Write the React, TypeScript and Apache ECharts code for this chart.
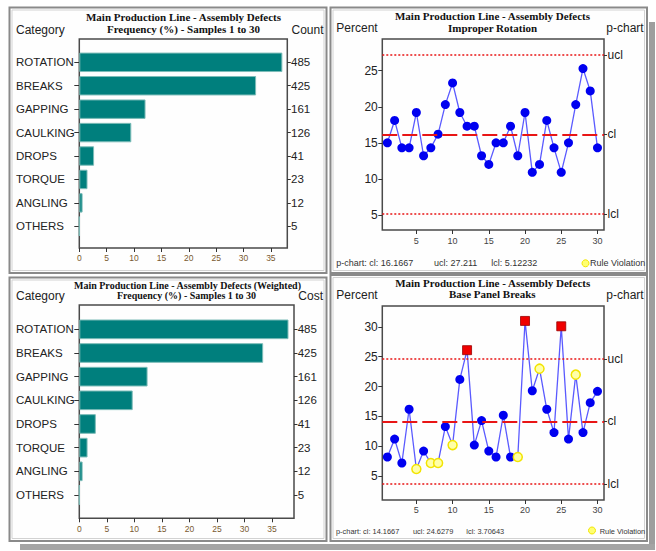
import React, { useEffect, useRef } from 'react';
import * as echarts from 'echarts';

const SANS = '"Liberation Sans", Arial, sans-serif';
const SERIF = '"Liberation Serif", "Times New Roman", serif';

// ---------- data ----------
const categories = ['ROTATION', 'BREAKS', 'GAPPING', 'CAULKING', 'DROPS', 'TORQUE', 'ANGLING', 'OTHERS'];
const counts = [485, 425, 161, 126, 41, 23, 12, 5];
const costs = [485, 425, 161, 126, 41, 23, 12, 5];
const frequencyPct = [37.1, 32.3, 12.1, 9.5, 2.7, 1.5, 0.6, 0];
const weightedPct = [38.0, 33.4, 12.4, 9.7, 3.0, 1.5, 0.6, 0];
const barTicks = [0, 5, 10, 15, 20, 25, 30, 35];

const samples = [1, 2, 3, 4, 5, 6, 7, 8, 9, 10, 11, 12, 13, 14, 15, 16, 17, 18, 19, 20, 21, 22, 23, 24, 25, 26, 27, 28, 29, 30];
const rotationPct = [15.0, 18.1, 14.3, 14.3, 19.2, 13.2, 14.3, 16.2, 20.3, 23.3, 19.2, 17.3, 17.3, 13.2, 12.0, 15.0, 15.0, 17.3, 13.2, 19.2, 10.9, 12.0, 18.1, 14.3, 10.9, 15.0, 20.3, 25.3, 22.2, 14.3];
const breaksPct = [8.2, 11.2, 7.2, 16.2, 6.2, 9.2, 7.2, 7.2, 13.3, 10.2, 21.2, 26.1, 10.2, 14.3, 9.2, 8.2, 15.2, 8.2, 8.2, 31.0, 19.3, 23.0, 16.2, 12.3, 30.1, 11.2, 22.0, 12.3, 17.3, 19.2];
const breaksRuleViolations = [5, 7, 8, 10, 19, 22, 27];

const rotationCl = 16.1667;
const rotationUcl = 27.211;
const rotationLcl = 5.12232;
const breaksCl = 14.1667;
const breaksUcl = 24.6279;
const breaksLcl = 3.70643;

const pTicksX = [5, 10, 15, 20, 25, 30];
const rotationTicksY = [5, 10, 15, 20, 25];
const breaksTicksY = [5, 10, 15, 20, 25, 30];

// ---------- helpers ----------
const LABEL = '#222';
const TEAL = '#007f7d';
const RED = '#e81515';

function txt(x: number, y: number, text: string, font: string, align = 'left', fill = LABEL) {
  return {
    type: 'text',
    x,
    y,
    silent: true,
    style: { text, font, fill, align, textAlign: align, verticalAlign: 'middle', textVerticalAlign: 'middle' },
  };
}

function panel(x: number, y: number, w: number, h: number) {
  return [
    { type: 'rect', silent: true, shape: { x, y, width: w, height: h }, style: { fill: '#fefefe', stroke: '#8a8a8a', lineWidth: 2 }, z: -10 },
    { type: 'rect', silent: true, shape: { x: x + 2.5, y: y + 2.5, width: w - 5, height: h - 5 }, style: { fill: 'none', stroke: '#d2d2d2', lineWidth: 1 }, z: -9 },
  ];
}

function near(a: number, b: number) {
  return Math.abs(a - b) < 1e-6;
}

const hiddenValueAxis = (gridIndex: number, min: number, max: number) => ({
  gridIndex, type: 'value', min, max, show: false,
});

function barXAxis(gridIndex: number, max: number, margin: number) {
  return {
    gridIndex, type: 'value', min: 0, max,
    axisLine: { show: false },
    splitLine: { show: false },
    axisTick: { show: true, length: 4, customValues: barTicks, lineStyle: { color: '#333' } },
    axisLabel: { customValues: barTicks, fontSize: 8.5, color: '#7a5a30', margin, fontFamily: SANS },
  };
}

function catAxis(gridIndex: number, data: string[], position: string, tickLen: number, margin: number, align: string) {
  return {
    gridIndex, type: 'category', inverse: true, position, data,
    axisLine: { show: false },
    splitLine: { show: false },
    axisTick: { show: true, alignWithLabel: true, length: tickLen, lineStyle: { color: '#333' } },
    axisLabel: { align, margin, fontSize: 11.5, color: LABEL, fontFamily: SANS },
  };
}

function pXAxis(gridIndex: number, margin: number) {
  return {
    gridIndex, type: 'value', min: 0.3, max: 30.9,
    axisLine: { show: false },
    splitLine: { show: false },
    axisTick: { show: true, length: 4, customValues: pTicksX, lineStyle: { color: '#333' } },
    axisLabel: { customValues: pTicksX, fontSize: 9, color: '#444', margin, fontFamily: SANS },
  };
}

function pYLeft(gridIndex: number, min: number, max: number, ticks: number[]) {
  return {
    gridIndex, type: 'value', min, max, position: 'left',
    axisLine: { show: false },
    splitLine: { show: false },
    axisTick: { show: true, length: 4, customValues: ticks, lineStyle: { color: '#333' } },
    axisLabel: { customValues: ticks, fontSize: 12, color: LABEL, margin: 4.5, fontFamily: SANS },
  };
}

function pYRight(gridIndex: number, min: number, max: number, ucl: number, cl: number, lcl: number) {
  const vals = [ucl, cl, lcl];
  return {
    gridIndex, type: 'value', min, max, position: 'right',
    axisLine: { show: false },
    splitLine: { show: false },
    axisTick: { show: true, length: 3, customValues: vals, lineStyle: { color: '#333' } },
    axisLabel: {
      customValues: vals, fontSize: 12, color: LABEL, margin: 3.5, fontFamily: SANS,
      formatter: (v: number) => (near(v, ucl) ? 'ucl' : near(v, cl) ? 'cl' : 'lcl'),
    },
  };
}

function controlLines(ucl: number, cl: number, lcl: number) {
  return {
    silent: true,
    symbol: ['none', 'none'],
    label: { show: false },
    emphasis: { disabled: true },
    data: [
      { yAxis: ucl, lineStyle: { type: [2, 2], color: RED, width: 1.5 } },
      { yAxis: cl, lineStyle: { type: [15, 5], color: RED, width: 1.8 } },
      { yAxis: lcl, lineStyle: { type: [2, 2], color: RED, width: 1.5 } },
    ],
  };
}

const gridFrame = { show: true, borderColor: '#4a4a4a', borderWidth: 1.5, backgroundColor: 'transparent' };

export default function App() {
  const ref = useRef<HTMLDivElement>(null);

  useEffect(() => {
    if (!ref.current) return;
    const chart = echarts.init(ref.current, undefined, { renderer: 'svg' });

    const breaksData = samples.map((s, i) => {
      const v = breaksPct[i];
      if (v > breaksUcl) {
        return { value: [s, v], symbol: 'rect', symbolSize: 9, itemStyle: { color: '#f00000', borderColor: '#900', borderWidth: 0.8 } };
      }
      if (breaksRuleViolations.includes(s)) {
        return { value: [s, v], symbol: 'circle', symbolSize: 9, itemStyle: { color: '#ffffa8', borderColor: '#f2e400', borderWidth: 1.5 } };
      }
      return { value: [s, v] };
    });

    const option: any = {
      animation: false,
      backgroundColor: '#ffffff',
      grid: [
        { left: 79.3, top: 39, width: 208, height: 209, ...gridFrame },
        { left: 79.3, top: 50.6, width: 208, height: 187.4 },
        { left: 382.3, top: 39, width: 221.7, height: 191, ...gridFrame },
        { left: 79.3, top: 305, width: 214.7, height: 213.3, ...gridFrame },
        { left: 79.3, top: 317.5, width: 214.7, height: 189.3 },
        { left: 382.3, top: 306, width: 221.7, height: 194, ...gridFrame },
      ],
      xAxis: [
        barXAxis(0, 38, 5),
        hiddenValueAxis(1, 0, 38),
        pXAxis(2, 6),
        barXAxis(3, 39, 6.5),
        hiddenValueAxis(4, 0, 39),
        pXAxis(5, 5.5),
      ],
      yAxis: [
        hiddenValueAxis(0, 0, 1),
        catAxis(1, categories, 'left', 5, 63.3, 'left'),
        catAxis(1, counts.map(String), 'right', 3.5, 3.7, 'left'),
        pYLeft(2, 2.9, 29.4, rotationTicksY),
        pYRight(2, 2.9, 29.4, rotationUcl, rotationCl, rotationLcl),
        hiddenValueAxis(3, 0, 1),
        catAxis(4, categories, 'left', 5, 63.3, 'left'),
        catAxis(4, costs.map(String), 'right', 3.5, 3.7, 'left'),
        pYLeft(5, 1.0, 33.5, breaksTicksY),
        pYRight(5, 1.0, 33.5, breaksUcl, breaksCl, breaksLcl),
      ],
      series: [
        {
          type: 'bar', xAxisIndex: 1, yAxisIndex: 1, data: frequencyPct, barCategoryGap: '17%',
          itemStyle: { color: TEAL, borderColor: '#7cbcb8', borderWidth: 1 }, silent: true,
        },
        {
          type: 'bar', xAxisIndex: 4, yAxisIndex: 6, data: weightedPct, barCategoryGap: '17%',
          itemStyle: { color: TEAL, borderColor: '#7cbcb8', borderWidth: 1 }, silent: true,
        },
        {
          type: 'line', xAxisIndex: 2, yAxisIndex: 3,
          data: samples.map((s, i) => [s, rotationPct[i]]),
          symbol: 'circle', symbolSize: 9, showAllSymbol: true,
          itemStyle: { color: '#0000f0' },
          lineStyle: { color: '#5a5aff', width: 1.3 },
          markLine: controlLines(rotationUcl, rotationCl, rotationLcl),
          silent: true,
        },
        {
          type: 'line', xAxisIndex: 5, yAxisIndex: 8,
          data: breaksData,
          symbol: 'circle', symbolSize: 9, showAllSymbol: true,
          itemStyle: { color: '#0000f0' },
          lineStyle: { color: '#5a5aff', width: 1.3 },
          markLine: controlLines(breaksUcl, breaksCl, breaksLcl),
          silent: true,
        },
      ],
      graphic: [
        // shadows
        { type: 'rect', silent: true, shape: { x: 649, y: 22, width: 6, height: 527 }, style: { fill: '#9e9e9e' }, z: -20 },
        { type: 'rect', silent: true, shape: { x: 20, y: 544, width: 635, height: 6 }, style: { fill: '#a4a4a4' }, z: -20 },
        ...panel(9.5, 7.5, 317, 265.5),
        ...panel(330.5, 7.5, 316.5, 265.5),
        ...panel(9.5, 277.5, 317, 263.5),
        ...panel(330.5, 275, 316.5, 266),
        // top-left
        txt(183.5, 16.7, 'Main Production Line - Assembly Defects', `bold 11px ${SERIF}`, 'center', '#111'),
        txt(183.5, 29, 'Frequency (%) - Samples 1 to 30', `bold 11px ${SERIF}`, 'center', '#111'),
        txt(16, 29.5, 'Category', `12px ${SANS}`),
        txt(291.5, 29.5, 'Count', `12px ${SANS}`),
        // top-right
        txt(492.5, 15.7, 'Main Production Line - Assembly Defects', `bold 11px ${SERIF}`, 'center', '#111'),
        txt(492.5, 27.7, 'Improper Rotation', `bold 11px ${SERIF}`, 'center', '#111'),
        txt(336.3, 27.5, 'Percent', `12px ${SANS}`),
        txt(606.3, 27.5, 'p-chart', `12px ${SANS}`),
        txt(336.3, 263.3, `p-chart: cl: ${rotationCl}`, `9px ${SANS}`, 'left', '#333'),
        txt(434, 263.3, `ucl: ${rotationUcl}`, `9px ${SANS}`, 'left', '#333'),
        txt(491.3, 263.3, `lcl: ${rotationLcl}`, `9px ${SANS}`, 'left', '#333'),
        { type: 'circle', silent: true, shape: { cx: 585.5, cy: 263.3, r: 3.5 }, style: { fill: '#ffff70', stroke: '#f2e600', lineWidth: 1 } },
        txt(590, 263.3, 'Rule Violation', `9px ${SANS}`, 'left', '#333'),
        // bottom-left
        txt(187.5, 285, 'Main Production Line - Assembly Defects (Weighted)', `bold 10px ${SERIF}`, 'center', '#111'),
        txt(186.5, 295.5, 'Frequency (%) - Samples 1 to 30', `bold 10px ${SERIF}`, 'center', '#111'),
        txt(16, 295.5, 'Category', `12px ${SANS}`),
        txt(298.3, 295.5, 'Cost', `12px ${SANS}`),
        // bottom-right
        txt(492.7, 282.7, 'Main Production Line - Assembly Defects', `bold 11px ${SERIF}`, 'center', '#111'),
        txt(492.3, 294.3, 'Base Panel Breaks', `bold 11px ${SERIF}`, 'center', '#111'),
        txt(336.3, 294.5, 'Percent', `12px ${SANS}`),
        txt(606.3, 294.5, 'p-chart', `12px ${SANS}`),
        txt(336, 531.7, `p-chart: cl: ${breaksCl}`, `7.4px ${SANS}`, 'left', '#333'),
        txt(413, 531.7, `ucl: ${breaksUcl}`, `7.4px ${SANS}`, 'left', '#333'),
        txt(466.3, 531.7, `lcl: ${breaksLcl}`, `7.4px ${SANS}`, 'left', '#333'),
        { type: 'circle', silent: true, shape: { cx: 592, cy: 530.5, r: 3.5 }, style: { fill: '#ffff70', stroke: '#f2e600', lineWidth: 1 } },
        txt(599.7, 531.7, 'Rule Violation', `7.4px ${SANS}`, 'left', '#333'),
      ],
    };

    chart.setOption(option);
    return () => chart.dispose();
  }, []);

  return <div ref={ref} style={{ position: 'absolute', left: 0, top: 0, width: 656, height: 551 }} />;
}
